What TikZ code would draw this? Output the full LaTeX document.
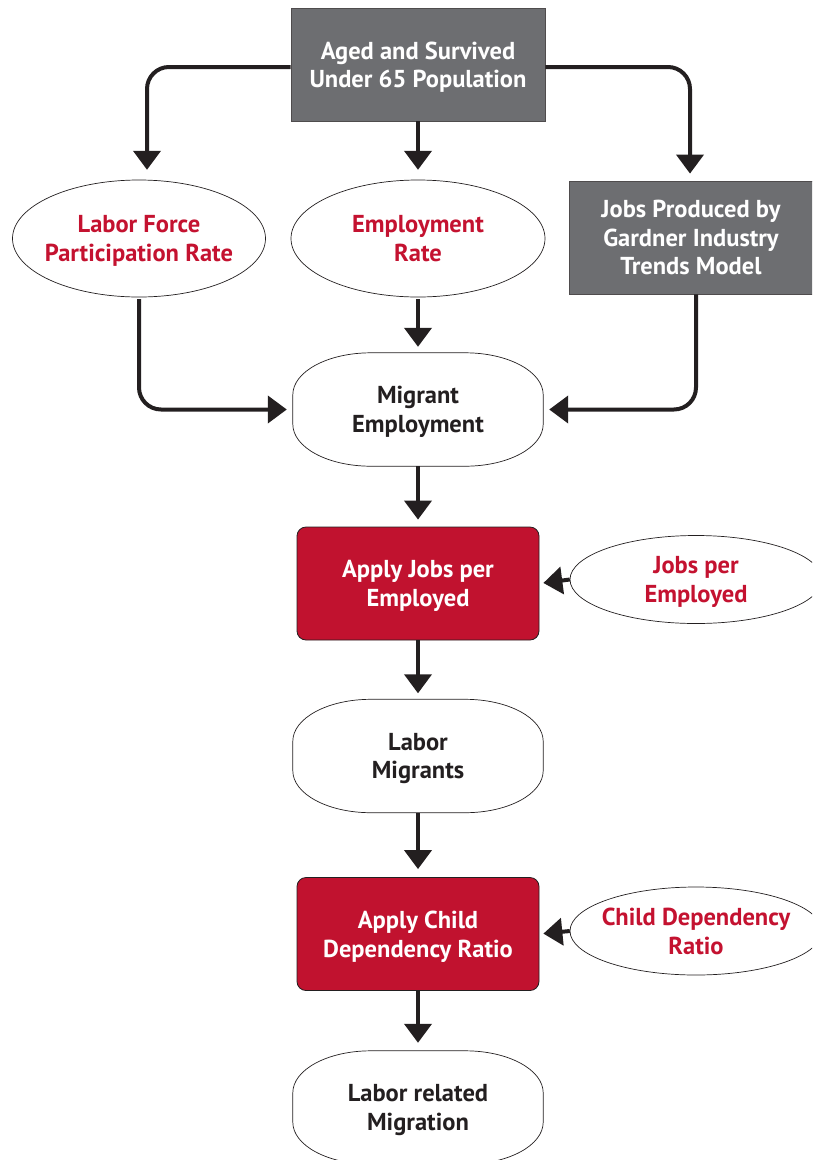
\documentclass[tikz,border=0pt]{standalone}
\usepackage{fontspec}
\setmainfont{PT Sans}
\usetikzlibrary{shapes.geometric,arrows.meta,calc}
\definecolor{boxgray}{HTML}{6D6E71}
\definecolor{boxred}{HTML}{C1122F}
\definecolor{txtred}{HTML}{C41230}
\definecolor{ink}{HTML}{231F20}
\tikzset{
  txt/.style={align=center,font=\bfseries\fontsize{24.5}{28.5}\selectfont,text depth=0pt},
  graybox/.style={txt,rectangle,draw=ink!80,line width=0.8pt,fill=boxgray,text=white,inner sep=0pt},
  redbox/.style={txt,rectangle,rounded corners=9pt,draw=ink,line width=0.8pt,fill=boxred,text=white,minimum width=242pt,minimum height=113pt,inner sep=0pt},
  oval/.style 2 args={txt,rectangle,inner sep=0pt,text=txtred,minimum width=#1pt+4pt,minimum height=#2pt+4pt,
    path picture={\draw[draw=ink,line width=0.7pt,fill=white] (path picture bounding box.center) ellipse[x radius=#1pt/2,y radius=#2pt/2];}},
  stadium/.style={txt,rectangle,minimum width=250pt,minimum height=113pt,inner sep=0pt,text=ink},
  arr/.style={draw=ink,line width=4pt,-{Triangle[width=27pt,length=19pt]},rounded corners=22pt},
  outline/.style={draw=ink,line width=0.7pt}
}
\newcommand{\stadshape}[1]{%
  \draw[outline] ([xshift=78pt]#1.north west) -- ([xshift=-78pt]#1.north east)
    arc[start angle=90,end angle=0,x radius=78pt,y radius=42pt]
    -- ([yshift=42pt]#1.south east)
    arc[start angle=0,end angle=-90,x radius=78pt,y radius=42pt]
    -- ([xshift=78pt]#1.south west)
    arc[start angle=270,end angle=180,x radius=78pt,y radius=42pt]
    -- ([yshift=-42pt]#1.north west)
    arc[start angle=180,end angle=90,x radius=78pt,y radius=42pt] -- cycle;}
\begin{document}
\begin{tikzpicture}[x=1pt,y=-1pt]
\useasboundingbox (0,0) rectangle (812,1160);
\clip (0,0) rectangle (812,1160);
% nodes
\node[graybox,minimum width=254pt,minimum height=113pt] (top) at (418,64.5) {Aged and Survived\\Under 65 Population};
\node[oval={253}{117}] (lfpr) at (139,238.5) {Labor Force\\Participation Rate};
\node[oval={254}{117}] (emp) at (418,238.5) {Employment\\Rate};
\node[graybox,minimum width=244pt,minimum height=113pt] (jobs) at (691,237.5) {Jobs Produced by\\Gardner Industry\\Trends Model};
\node[stadium] (mig) at (418,409.5) {Migrant\\Employment};
\node[redbox] (ajpe) at (418,583.5) {Apply Jobs per\\Employed};
\node[oval={252}{88}] (jpe) at (696,579.5) {Jobs per\\Employed};
\node[stadium] (lm) at (418,756) {Labor\\Migrants};
\node[redbox] (acdr) at (418,934) {Apply Child\\Dependency Ratio};
\node[oval={252}{88}] (cdr) at (696,931) {Child Dependency\\Ratio};
\node[stadium] (lrm) at (418,1107.5) {Labor related\\Migration};
\stadshape{mig}
\stadshape{lm}
\stadshape{lrm}
% connectors
\draw[arr,shorten >=8pt] ([yshift=-2.5pt]top.west) -| ([xshift=8pt]lfpr.north);
\draw[arr,shorten >=8pt] (top.south) -- (emp.north);
\draw[arr,shorten >=7pt] ([yshift=-2.5pt]top.east) -| ([xshift=-1pt]jobs.north);
\draw[arr,shorten >=6pt] (lfpr.south) |- (mig.west);
\draw[arr,shorten >=6pt] (emp.south) -- (mig.north);
\draw[arr,shorten >=6pt] ([xshift=5pt]jobs.south) |- (mig.east);
\draw[arr,shorten >=7pt] (mig.south) -- (ajpe.north);
\draw[arr,shorten >=6pt] (ajpe.south) -- (lm.north);
\draw[arr,shorten >=4pt] ([xshift=2pt]jpe.west) -- (ajpe.east);
\draw[arr,shorten >=8pt] (lm.south) -- (acdr.north);
\draw[arr,shorten >=4pt] ([xshift=2pt]cdr.west) -- (acdr.east);
\draw[arr,shorten >=8pt] (acdr.south) -- (lrm.north);
\end{tikzpicture}
\end{document}
